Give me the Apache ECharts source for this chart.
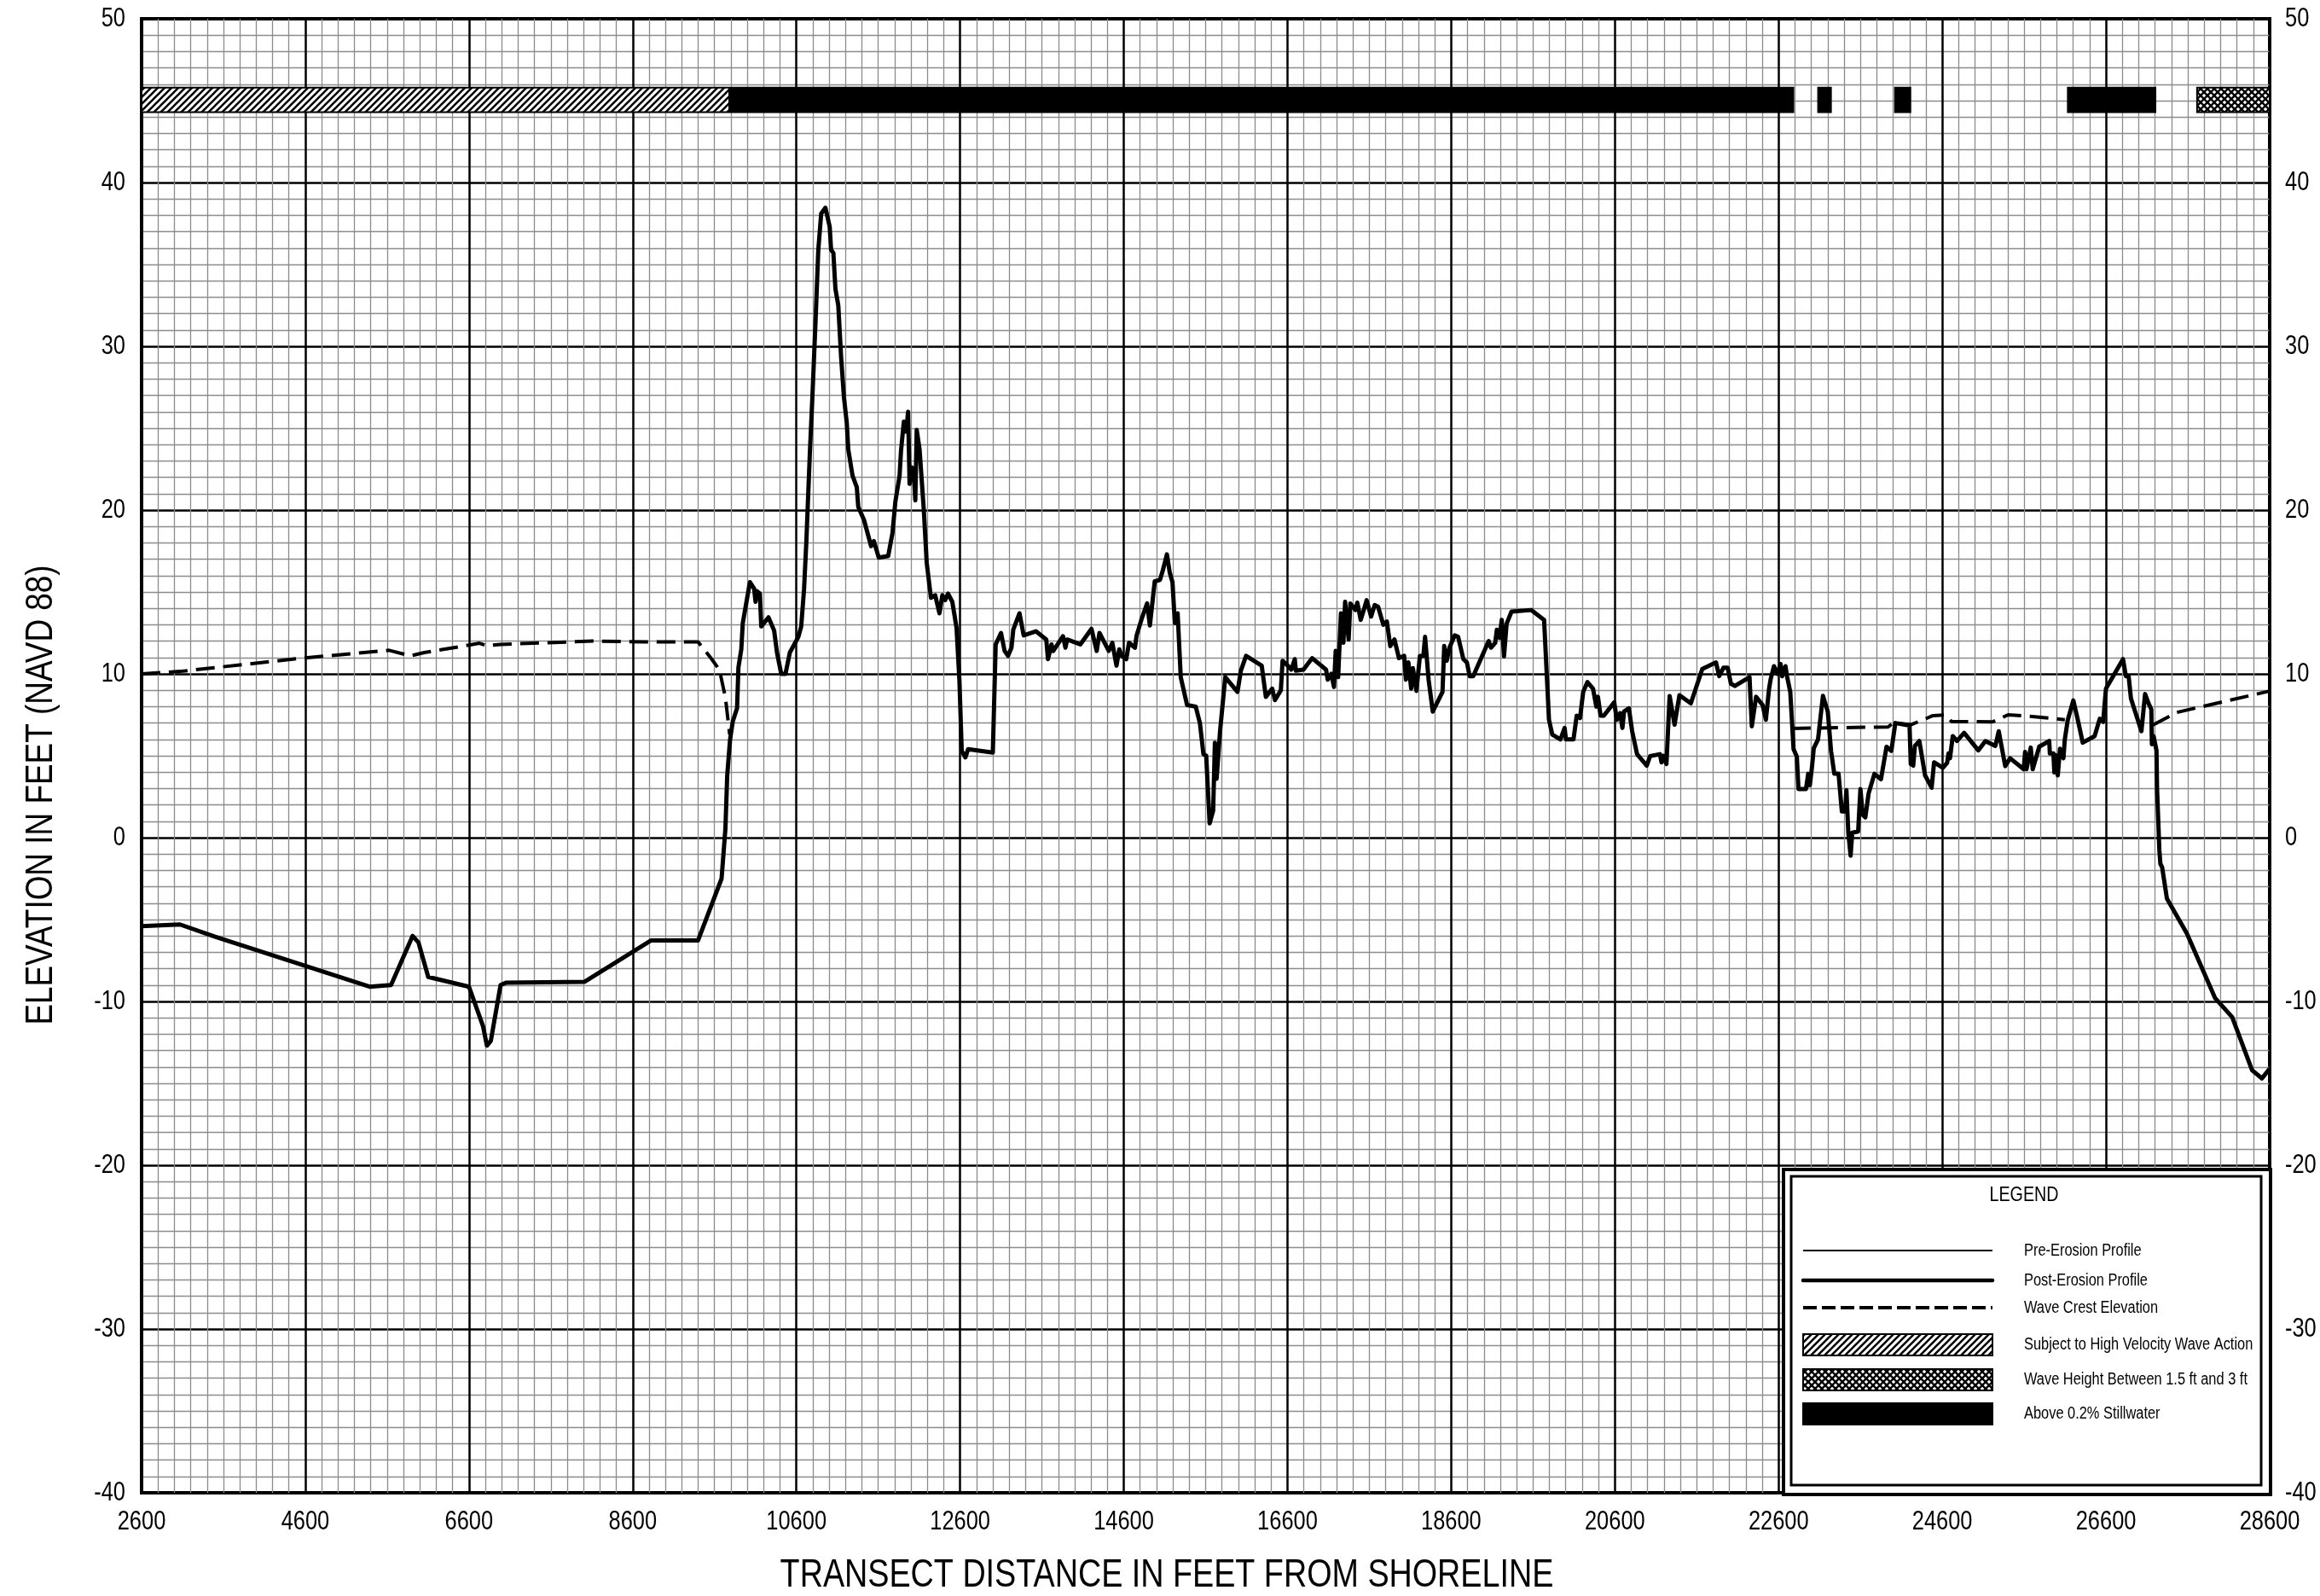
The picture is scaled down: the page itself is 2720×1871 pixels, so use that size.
<!DOCTYPE html>
<html><head><meta charset="utf-8">
<script src="https://cdn.jsdelivr.net/npm/echarts@6/dist/echarts.min.js"></script>
<style>html,body{margin:0;padding:0;background:#fff}#c{width:2720px;height:1871px}</style>
</head><body><div id="c"></div>
<script>
// ---------------- DATA ----------------
const xTicks = [2600, 4600, 6600, 8600, 10600, 12600, 14600, 16600, 18600, 20600, 22600, 24600, 26600, 28600];
const yTicks = [-40, -30, -20, -10, 0, 10, 20, 30, 40, 50];

const postX = [2600,3068,3498,5385,5648,5911,5983,6102,6600,6771,6819,6867,6986,7058,8013,8826,9399,9686,9733,9755,9790,9823,9875,9892,9927,9945,9980,10032,10084,10101,10119,10154,10171,10259,10328,10363,10415,10467,10520,10624,10659,10694,10722,10764,10798,10833,10868,10903,10955,11007,11024,11052,11077,11112,11147,11181,11216,11234,11286,11338,11356,11426,11513,11547,11607,11722,11774,11809,11861,11878,11913,11941,11965,11983,12011,12035,12053,12070,12105,12157,12192,12244,12296,12348,12383,12418,12453,12505,12557,12592,12620,12665,12698,13000,13035,13100,13144,13186,13228,13250,13326,13377,13526,13653,13674,13717,13738,13857,13887,13908,14069,14205,14269,14303,14417,14460,14511,14545,14575,14630,14664,14736,14757,14821,14885,14919,14978,15042,15076,15127,15161,15195,15224,15258,15296,15373,15479,15530,15573,15607,15649,15692,15713,15734,15776,15840,15989,16031,16094,16285,16336,16413,16447,16519,16540,16604,16647,16689,16702,16795,16902,17071,17092,17135,17168,17189,17219,17253,17283,17304,17347,17368,17431,17453,17495,17538,17567,17622,17665,17707,17771,17814,17856,17907,17962,18026,18047,18077,18111,18132,18175,18218,18260,18281,18324,18358,18375,18494,18515,18545,18579,18643,18685,18749,18792,18826,18869,19058,19086,19138,19158,19190,19218,19245,19277,19337,19576,19735,19795,19835,19935,19986,20002,20094,20134,20174,20213,20265,20333,20373,20393,20425,20465,20592,20624,20664,20692,20712,20771,20811,20871,20990,21030,21150,21170,21190,21230,21269,21329,21389,21528,21668,21835,21875,21927,21978,22018,22066,22245,22273,22325,22405,22445,22484,22504,22544,22584,22624,22644,22684,22703,22743,22783,22823,22843,22935,22962,22982,23010,23030,23082,23142,23201,23241,23281,23333,23373,23413,23429,23452,23480,23500,23572,23600,23628,23660,23700,23771,23851,23919,23978,24026,24200,24215,24245,24265,24320,24390,24470,24500,24607,24659,24676,24694,24728,24780,24867,25040,25127,25248,25290,25369,25428,25595,25612,25629,25647,25681,25705,25785,25907,25914,25958,25969,25983,26011,26038,26080,26097,26132,26201,26253,26316,26461,26524,26565,26600,26808,26843,26877,26905,26947,27033,27078,27120,27154,27161,27182,27217,27224,27252,27265,27286,27345,27588,27934,28142,28385,28506,28600];
const postY = [-5.4,-5.3,-6.05,-9.1,-9.0,-6.0,-6.4,-8.5,-9.1,-11.5,-12.7,-12.4,-9.0,-8.85,-8.8,-6.27,-6.27,-2.5,0.56,3.8,6.0,7.1,7.9,10.4,11.5,13.1,14.1,15.6,15.2,14.4,15.05,14.9,12.9,13.45,12.65,11.3,10.0,10.0,11.3,12.26,12.9,15.2,18.1,23.4,27.2,31.4,35.9,38.1,38.46,37.3,35.9,35.7,33.5,32.5,29.3,26.9,25.3,23.7,22.1,21.4,20.2,19.4,17.8,18.1,17.1,17.2,18.6,20.5,22.1,23.6,25.4,24.8,26.0,21.6,22.6,22.1,20.6,24.9,23.7,20.0,16.8,14.65,14.8,13.7,14.8,14.5,14.9,14.4,12.8,9.6,5.3,4.9,5.4,5.2,11.8,12.5,11.4,11.1,11.6,12.7,13.7,12.35,12.6,12.1,10.9,11.8,11.4,12.3,11.6,12.1,11.8,12.75,11.4,12.5,11.4,11.9,10.5,11.5,11.1,10.9,11.9,11.6,12.35,13.4,14.3,12.96,15.65,15.74,16.3,17.3,16.2,15.6,13.1,13.7,9.8,8.1,8.0,7.0,5.1,5.0,0.87,1.65,5.8,3.6,6.5,9.8,8.9,10.2,11.1,10.5,8.6,9.1,8.4,9.0,10.8,10.5,10.26,10.9,10.2,10.26,10.96,10.26,9.65,10.0,9.2,11.4,9.8,13.7,11.9,14.4,12.1,14.3,13.9,14.35,13.3,14.0,14.5,13.5,14.2,14.1,13.0,13.2,11.7,12.1,10.96,11.1,9.65,10.7,9.1,10.35,8.96,11.1,11.1,12.26,9.65,8.35,7.7,8.9,11.7,10.8,11.6,12.35,12.26,10.9,10.7,9.86,9.86,12.0,11.6,11.9,12.7,12.2,13.3,11.07,13.05,13.8,13.9,13.3,7.2,6.3,6.0,6.7,6.0,6.0,7.45,7.3,8.9,9.5,9.1,8.0,8.6,7.45,7.45,8.26,7.2,7.6,6.7,7.7,7.9,6.5,5.1,4.4,4.98,5.1,4.6,5.0,4.5,8.65,6.9,8.7,8.2,10.3,10.7,9.86,10.38,10.38,9.4,9.26,9.8,6.8,8.6,8.1,7.2,9.1,9.7,10.47,10.0,10.6,9.86,10.47,9.86,8.9,5.4,4.95,2.97,2.97,3.9,3.2,4.4,5.46,6.0,8.66,7.7,5.3,3.9,3.9,1.6,1.6,2.9,0.3,-1.1,0.3,0.38,2.97,1.4,1.24,2.7,3.9,3.57,5.55,5.3,7.0,6.85,4.5,4.4,5.6,5.9,3.8,3.05,4.6,4.27,4.56,5.14,4.85,6.2,5.9,6.4,5.33,5.9,5.6,6.5,4.37,4.85,4.18,5.24,4.18,4.2,5.5,4.18,5.56,5.9,5.14,5.14,3.98,5.04,3.8,5.43,4.85,6.0,7.16,8.38,7.26,5.8,6.2,7.26,7.07,9.1,10.9,9.86,9.86,8.5,7.84,6.5,8.77,8.2,7.84,5.7,6.2,5.33,3.0,-0.74,-1.6,-1.8,-3.73,-5.85,-9.8,-10.96,-14.2,-14.7,-14.1];

// Wave crest elevation (null = no wave crest, ground above stillwater)
const crestX = [2600,3068,4600,5624,5886,6054,6600,6729,6819,6986,8109,8754,9399,9566,9661,9733,9785,9800,22763,23938,23998,24217,24347,24486,24642,24711,25214,25404,25699,26097,26110,27172,27466,28600];
const crestY = [10.0,10.15,10.98,11.44,11.1,11.3,11.76,11.87,11.72,11.8,12.0,11.95,11.95,10.9,10.23,8.56,6.3,null,6.67,6.76,7.0,6.9,7.16,7.45,7.5,7.1,7.07,7.5,7.4,7.2,null,6.88,7.65,8.95];

// Zone bands along the top
const zoneFrom = [2600, 9800, 23083, 24022, 26134, 27713];
const zoneTo   = [9780, 22780, 23240, 24210, 27204, 28600];
const zoneKind = ['velocity', 'stillwater', 'stillwater', 'stillwater', 'stillwater', 'waveheight'];

const legendLabels = ['Pre-Erosion Profile', 'Post-Erosion Profile', 'Wave Crest Elevation',
  'Subject to High Velocity Wave Action', 'Wave Height Between 1.5 ft and 3 ft', 'Above 0.2% Stillwater'];
const xTitle = 'TRANSECT DISTANCE IN FEET FROM SHORELINE';
const yTitle = 'ELEVATION IN FEET (NAVD 88)';

// ---------------- STYLE ----------------
const FONT = '"Liberation Sans","Arial",sans-serif';
const NARROW = 0.82;
const BAND_TOP = 45.8, BAND_BOTTOM = 44.3;

function hatchPattern() {
  const c = document.createElement('canvas'); c.width = 8; c.height = 8;
  const g = c.getContext('2d');
  g.fillStyle = '#fff'; g.fillRect(0, 0, 8, 8);
  g.strokeStyle = '#000'; g.lineWidth = 2.6;
  g.beginPath();
  g.moveTo(-2, 10); g.lineTo(10, -2);
  g.moveTo(-2, 2); g.lineTo(2, -2);
  g.moveTo(6, 10); g.lineTo(10, 6);
  g.stroke();
  return { image: c, repeat: 'repeat' };
}
function crossPattern() {
  const c = document.createElement('canvas'); c.width = 8; c.height = 8;
  const g = c.getContext('2d');
  g.fillStyle = '#000'; g.fillRect(0, 0, 8, 8);
  g.fillStyle = '#fff';
  const dia = (cx, cy, r) => { g.beginPath(); g.moveTo(cx, cy - r); g.lineTo(cx + r, cy); g.lineTo(cx, cy + r); g.lineTo(cx - r, cy); g.closePath(); g.fill(); };
  dia(4, 4, 2.3); dia(0, 0, 2.3); dia(8, 0, 2.3); dia(0, 8, 2.3); dia(8, 8, 2.3);
  return { image: c, repeat: 'repeat' };
}
const fills = { velocity: hatchPattern(), waveheight: crossPattern(), stillwater: '#000' };

const postData = postX.map((x, i) => [x, postY[i]]);
const crestData = crestX.map((x, i) => [x, crestY[i]]);
const zoneData = zoneFrom.map((x, i) => [x, zoneTo[i], i]);

const chart = echarts.init(document.getElementById('c'), null, { renderer: 'canvas' });

const gridLines = {
  splitLine: { show: true, lineStyle: { color: '#000', width: 2.5 } },
  minorTick: { show: false, splitNumber: 10 },
  minorSplitLine: { show: true, lineStyle: { color: '#8c8c8c', width: 1.3 } }
};

chart.setOption({
  animation: false,
  backgroundColor: '#fff',
  grid: { left: 166, right: 59, top: 22, bottom: 121, show: true, borderColor: '#000', borderWidth: 4, backgroundColor: 'transparent' },
  xAxis: Object.assign({
    type: 'value', min: xTicks[0], max: xTicks[xTicks.length - 1], interval: 2000,
    axisLine: { show: false }, axisTick: { show: false }, axisLabel: { show: false }
  }, gridLines),
  yAxis: Object.assign({
    type: 'value', min: yTicks[0], max: yTicks[yTicks.length - 1], interval: 10,
    axisLine: { show: false }, axisTick: { show: false }, axisLabel: { show: false }
  }, gridLines),
  series: [
    { name: 'Wave Crest Elevation', type: 'line', data: crestData, showSymbol: false, connectNulls: false,
      lineStyle: { color: '#000', width: 4, type: [22, 10] }, z: 3 },
    { name: 'Post-Erosion Profile', type: 'line', data: postData, showSymbol: false,
      lineStyle: { color: '#000', width: 5, join: 'round' }, z: 4 },
    { name: 'Zones', type: 'custom', data: zoneData, encode: { x: [0, 1] }, z: 5,
      renderItem: function (params, api) {
        const p0 = api.coord([api.value(0), BAND_TOP]);
        const p1 = api.coord([api.value(1), BAND_BOTTOM]);
        const kind = zoneKind[api.value(2)];
        return { type: 'rect', shape: { x: p0[0], y: p0[1], width: p1[0] - p0[0], height: p1[1] - p0[1] },
          style: { fill: fills[kind], stroke: '#000', lineWidth: 2 } };
      } }
  ]
});

// ---------- tick labels (condensed look), placed through the axis scales ----------
function txt(x, y, s, size, align, valign, extra) {
  return Object.assign({ type: 'text', x: x, y: y, scaleX: NARROW, z: 60,
    style: { text: s, font: size + 'px ' + FONT, fill: '#000', textAlign: align, textVerticalAlign: valign } }, extra || {});
}
const graphics = [];
const yMin = yTicks[0], xMin = xTicks[0], xMax = xTicks[xTicks.length - 1];
xTicks.forEach(v => {
  const p = chart.convertToPixel({ xAxisIndex: 0, yAxisIndex: 0 }, [v, yMin]);
  graphics.push(txt(p[0], p[1] + 34, String(v), 31, 'center', 'middle'));
});
yTicks.forEach(v => {
  const pl = chart.convertToPixel({ xAxisIndex: 0, yAxisIndex: 0 }, [xMin, v]);
  const pr = chart.convertToPixel({ xAxisIndex: 0, yAxisIndex: 0 }, [xMax, v]);
  graphics.push(txt(pl[0] - 19, pl[1], String(v), 31, 'right', 'middle'));
  graphics.push(txt(pr[0] + 18, pr[1], String(v), 31, 'left', 'middle'));
});

// ---------- legend box ----------
const LX = 2091, LY = 1371;
const rowsY = [1466, 1501, 1533, 1576, 1617, 1657];
const swL = 2114, swR = 2336, txtX = 2373;
graphics.push({ type: 'rect', z: 50, shape: { x: LX, y: LY, width: 2662 - LX, height: 1752 - LY }, style: { fill: '#fff', stroke: '#000', lineWidth: 4 } });
graphics.push({ type: 'rect', z: 51, shape: { x: LX + 9, y: LY + 8, width: 2651 - LX - 9, height: 1741 - LY - 8 }, style: { fill: 'none', stroke: '#000', lineWidth: 3 } });
graphics.push(txt(txtX, 1401, 'LEGEND', 24, 'center', 'middle'));
graphics.push({ type: 'line', z: 52, shape: { x1: swL, y1: rowsY[0], x2: swR, y2: rowsY[0] }, style: { stroke: '#000', lineWidth: 2 } });
graphics.push({ type: 'line', z: 52, shape: { x1: swL, y1: rowsY[1], x2: swR, y2: rowsY[1] }, style: { stroke: '#000', lineWidth: 4.5, lineCap: 'round' } });
graphics.push({ type: 'line', z: 52, shape: { x1: swL, y1: rowsY[2], x2: swR, y2: rowsY[2] }, style: { stroke: '#000', lineWidth: 4, lineDash: [16, 6] } });
graphics.push({ type: 'rect', z: 52, shape: { x: swL, y: rowsY[3] - 12, width: swR - swL, height: 25 }, style: { fill: fills.velocity, stroke: '#000', lineWidth: 2 } });
graphics.push({ type: 'rect', z: 52, shape: { x: swL, y: rowsY[4] - 12, width: swR - swL, height: 25 }, style: { fill: fills.waveheight, stroke: '#000', lineWidth: 2 } });
graphics.push({ type: 'rect', z: 52, shape: { x: swL, y: rowsY[5] - 12, width: swR - swL, height: 25 }, style: { fill: '#000', stroke: '#000', lineWidth: 2 } });
legendLabels.forEach((t, i) => graphics.push(txt(txtX, rowsY[i], t, 20, 'left', 'middle')));

// ---------- axis titles ----------
graphics.push(txt(1368, 1847, xTitle, 46, 'center', 'middle'));
graphics.push(txt(49, 932, yTitle, 45, 'center', 'middle', { rotation: Math.PI / 2 }));

chart.setOption({ graphic: graphics });
</script></body></html>
